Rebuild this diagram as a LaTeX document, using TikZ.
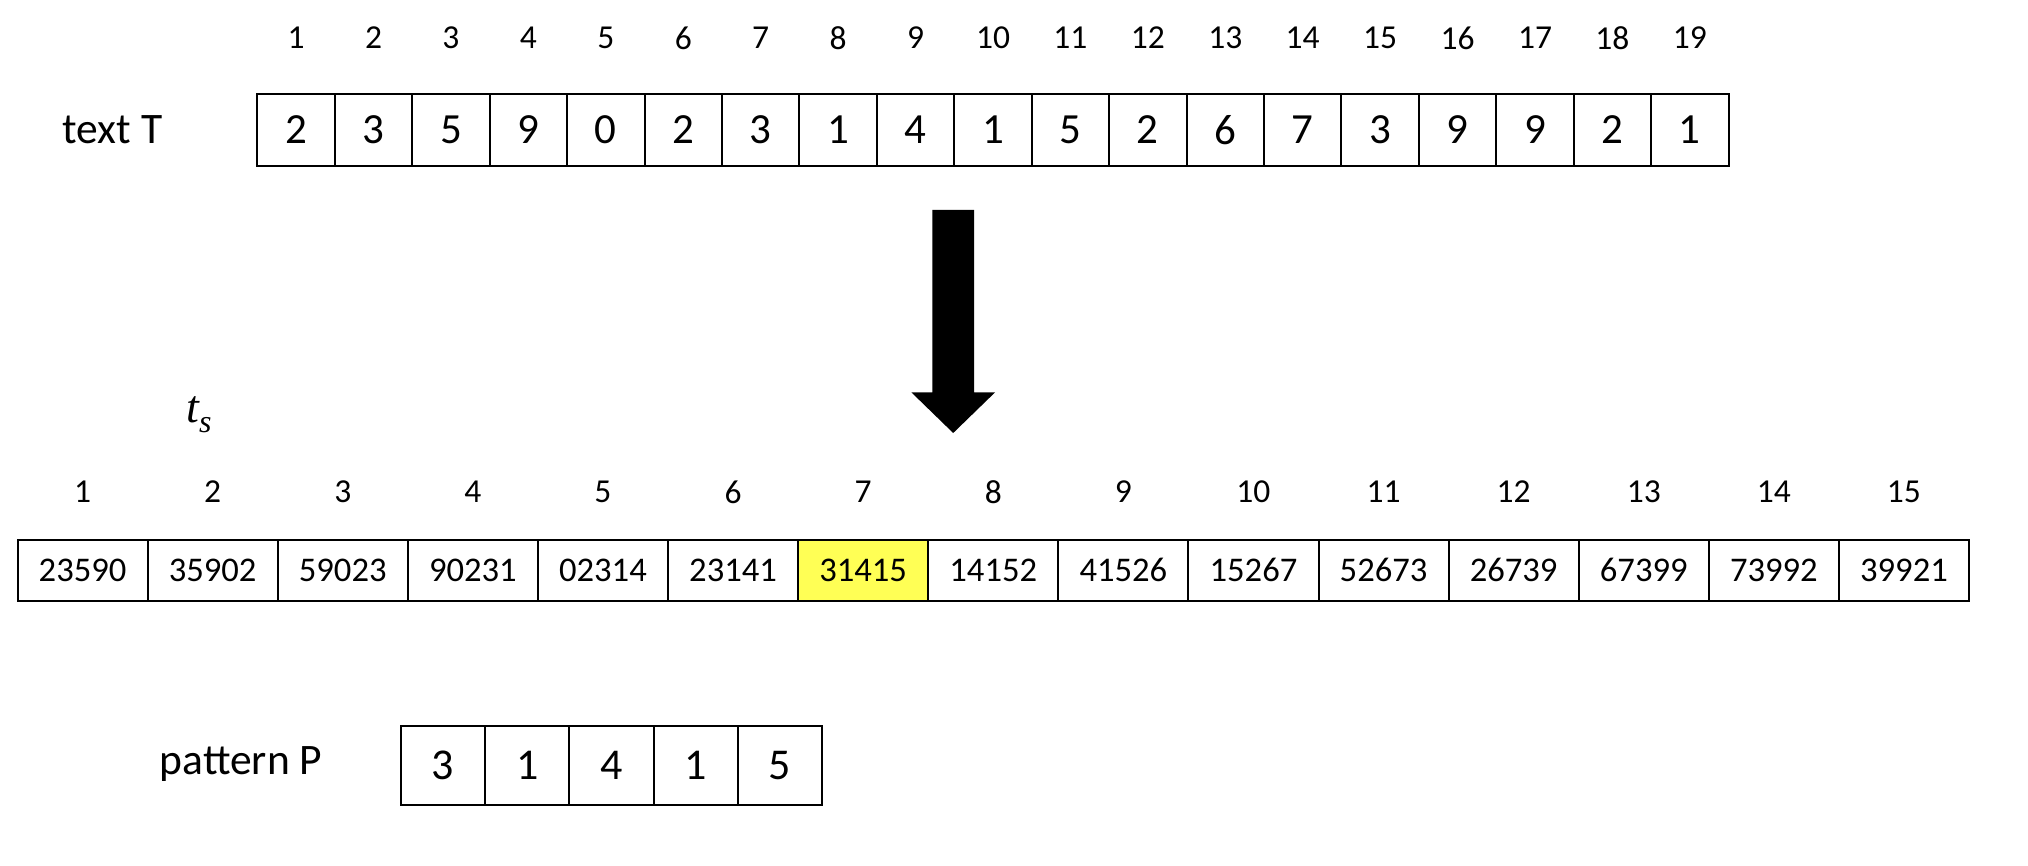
\documentclass[tikz,border=0pt]{standalone}
\usepackage{fontspec}
\setmainfont{Carlito}
\newfontfamily\tsfont{Liberation Serif}
\definecolor{hlyellow}{RGB}{255,255,85}
\tikzset{
  cell/.style={draw,line width=1pt,inner sep=0pt,outer sep=0pt},
  tcell/.style={cell,minimum width=38.7pt,minimum height=35.7pt,font=\fontsize{21.5}{24}\selectfont},
  scell/.style={cell,minimum width=65.05pt,minimum height=30.5pt,font=\fontsize{17.3}{20}\selectfont},
  pcell/.style={cell,minimum width=42.1pt,minimum height=39.5pt,font=\fontsize{22}{26}\selectfont},
  idx/.style={inner sep=0pt,font=\fontsize{16.75}{20}\selectfont},
  lbl/.style={inner sep=0pt,anchor=base,font=\fontsize{21.75}{26}\selectfont}
}
\begin{document}
\begin{tikzpicture}[x=0.5pt,y=-0.5pt]
 \useasboundingbox (0,0) rectangle (2028,866);
 % text T
 \node[lbl] (textT) at (112.5,144) {text T};
 \foreach \v [count=\i] in {2,3,5,9,0,2,3,1,4,1,5,2,6,7,3,9,9,2,1} {
  \node[tcell] (t\i) at ({257.4+77.43*(\i-0.5)},130) {\v};
  \node[idx] (ti\i) at ({257.4+77.43*(\i-0.5)},38) {\i};
 }
 % big arrow
 \fill (932.3,210) -- (974,210) -- (974,392.3) -- (995.1,392.3) -- (953.2,433)
   -- (911.3,392.3) -- (932.3,392.3) -- cycle;
 % substrings t_s
 \node[lbl,font=\tsfont\itshape\fontsize{23}{26}\selectfont] (ts) at (199,422.7)
   {t\raisebox{-5pt}{\fontsize{16}{18}\selectfont s}};
 \foreach \v [count=\i] in {23590,35902,59023,90231,02314,23141,31415,14152,41526,15267,52673,26739,67399,73992,39921} {
  \node[scell] (s\i) at ({17.5+130.1*(\i-0.5)},570) {\v};
  \node[idx] (si\i) at ({17.5+130.1*(\i-0.5)},492) {\i};
 }
 \node[scell,fill=hlyellow] at (s7) {31415};
 % pattern P
 \node[lbl] (patP) at (241,774.7) {pattern P};
 \foreach \v [count=\i] in {3,1,4,1,5}
  \node[pcell] (p\i) at ({401+84.2*(\i-0.5)},765.8) {\v};
\end{tikzpicture}
\end{document}
